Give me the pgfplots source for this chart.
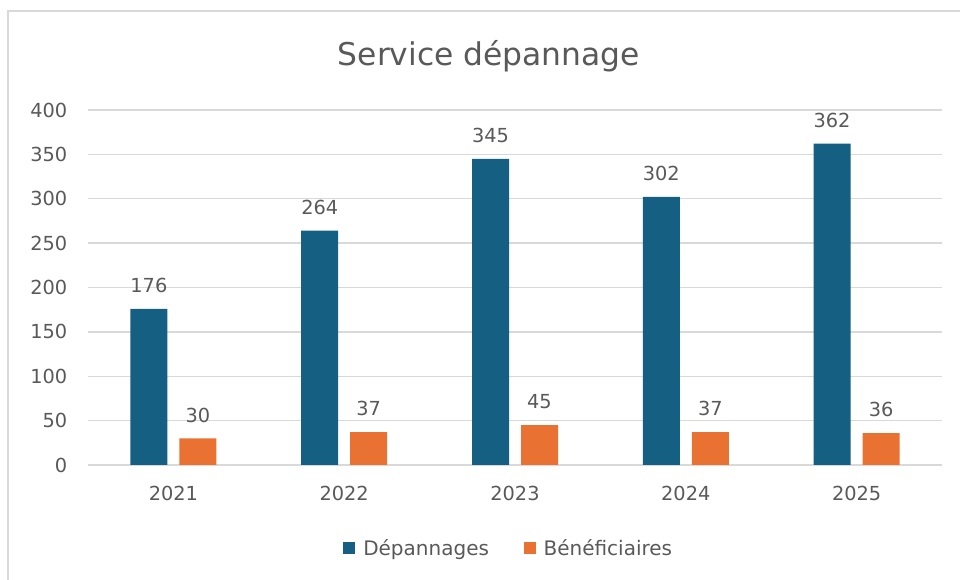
\documentclass[border=0pt]{standalone}
\usepackage{pgfplots}
\pgfplotsset{compat=1.18}
\usepackage{fontspec}
\setmainfont{DejaVu Sans}
\definecolor{cblue}{HTML}{156082}
\definecolor{corange}{HTML}{E97132}
\definecolor{tgray}{HTML}{595959}
\definecolor{ggray}{HTML}{D9D9D9}
\begin{document}
\begin{tikzpicture}
\path[use as bounding box] (0pt,0pt) rectangle (720pt,435pt);
\draw[ggray, line width=1.5pt] (6pt,-10pt) -- (6pt,426.75pt) -- (730pt,426.75pt);
\node[text=tgray, font=\fontsize{23.5}{28}\selectfont] at (366.75pt,393pt) {Service dépannage};
\begin{axis}[
  at={(66pt,86.25pt)}, anchor=south west,
  scale only axis, width=640.5pt, height=266.25pt,
  ybar=9pt, bar width=27.75pt,
  xmin=-0.5, xmax=4.5, ymin=0, ymax=400,
  xtick={0,1,2,3,4}, xticklabels={2021,2022,2023,2024,2025},
  ytick={0,50,...,400},
  /pgf/number format/assume math mode=true,
  ymajorgrids, grid style={ggray, line width=1pt},
  axis line style={draw=none},
  major tick length=0pt,
  tick label style={text=tgray, font=\fontsize{14.5}{17}\selectfont},
  xticklabel style={yshift=-12pt},
  yticklabel style={xshift=-12pt},
  nodes near coords,
  every node near coord/.append style={text=tgray, font=\fontsize{14.5}{17}\selectfont, anchor=south, yshift=8.5pt},
  legend columns=2,
  legend style={at={(0.493,-0.234)}, anchor=center, draw=none, fill=none, text=tgray, font=\fontsize{15}{18}\selectfont,
    /tikz/every odd column/.append style={column sep=4pt},
    /tikz/every even column/.append style={column sep=24pt}},
  legend image code/.code={\fill[#1] (0pt,-4.5pt) rectangle (9pt,4.5pt);},
]
\addplot[fill=cblue, draw=none] coordinates {(0,176) (1,264) (2,345) (3,302) (4,362)};
\addplot[fill=corange, draw=none] coordinates {(0,30) (1,37) (2,45) (3,37) (4,36)};
\legend{Dépannages, Bénéficiaires}
\end{axis}
\end{tikzpicture}
\end{document}
